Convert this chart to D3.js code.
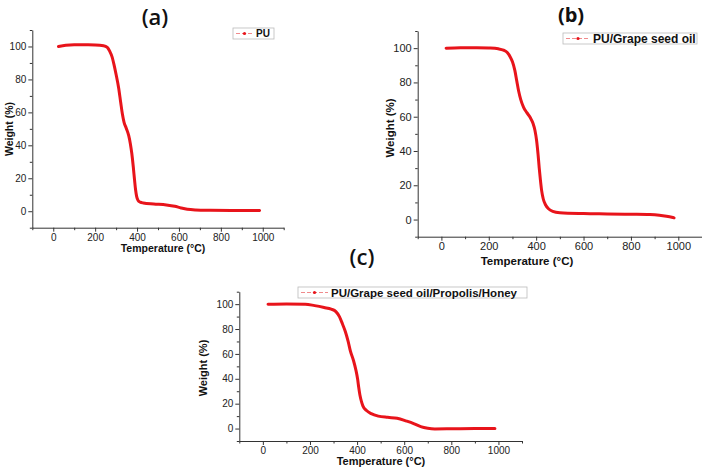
<!DOCTYPE html>
<html><head><meta charset="utf-8">
<script src="https://cdn.jsdelivr.net/npm/d3@7"></script>
<style>body{margin:0;background:#fff}svg{display:block}</style></head>
<body>
<svg id="chart" width="702" height="467"></svg>
<script>
// ---- data (temperature °C, weight %) ----
const puData = [[25,100],[60,100.8],[100,101.1],[150,101],[200,100.9],[240,100.5],[258,99.5],[270,97],[280,94],[290,89],[300,83],[312,75],[322,66],[330,59],[338,54],[348,50.5],[360,46],[368,41],[375,35],[382,27],[388,19],[393,13],[398,9],[405,6.5],[415,5.5],[430,5],[480,4.4],[540,3.8],[580,3],[610,2],[640,1.2],[680,0.8],[750,0.6],[850,0.5],[985,0.4]];
const grapeData = [[20,100],[80,100.3],[150,100.3],[200,100.1],[240,99.6],[262,98.8],[278,97.4],[290,95],[300,92],[310,87],[318,81],[326,75],[335,70],[347,65.5],[360,62.5],[375,59.5],[387,56],[395,52],[402,46],[408,38],[413,30],[418,23],[423,17],[430,12],[440,8.5],[452,6.3],[470,4.8],[500,4],[600,3.5],[700,3.3],[800,3.1],[880,2.9],[920,2.5],[950,1.9],[982,1.0]];
const honeyData = [[22,100],[100,100.2],[180,100],[220,98.8],[260,97.3],[290,96],[310,94],[325,90],[338,84],[350,78],[362,70],[372,62],[385,54.5],[395,47],[402,40],[407,33],[412,27],[418,22],[425,18],[440,14.5],[460,12],[490,10],[530,9],[570,8.3],[610,6],[640,4],[670,1.5],[700,0.2],[730,-0.3],[800,-0.2],[900,0],[985,0]];
const xDomain = [-100, 1100];
const yDomain = [-10, 110];
const xTicks = [0,200,400,600,800,1000];
const xMinorTicks = [-100,100,300,500,700,900,1100];
const yTicks = [0,20,40,60,80,100];
const yMinorTicks = [-10,10,30,50,70,90,110];
const panelTitles = ["(a)","(b)","(c)"];
const seriesNames = ["PU","PU/Grape seed oil","PU/Grape seed oil/Propolis/Honey"];
const xLabel = "Temperature (°C)";
const yLabel = "Weight (%)";

// ---- layout ----
const panels = [
  {data: puData, x:[32.3,283.7], y:[227.7,30], title:[155,25], titleW:600, titleFs:22,
   leg:{x:233,y:28,w:41,h:11,line:17,fs:10}, yl:[9,129], xl:[163,252], lab:10.5, tick:10},
  {data: grapeData, x:[417.7,702], y:[236.7,31], title:[571,22], titleW:"bold", titleFs:20,
   leg:{x:563,y:33,w:134,h:11,line:24,fs:12}, yl:[390,128], xl:[527,265], lab:11.5, tick:11},
  {data: honeyData, x:[239.3,522], y:[441,291.7], title:[362,265], titleW:600, titleFs:22,
   leg:{x:298,y:287,w:229,h:11,line:27,fs:11.5}, yl:[203,368], xl:[381,465], lab:11, tick:10}
];

const svg = d3.select("#chart");
const red = "#e8141b";
const axisColor = "#333";
const fmt = d3.format("d");

panels.forEach((p, i) => {
  const x = d3.scaleLinear().domain(xDomain).range(p.x);
  const y = d3.scaleLinear().domain(yDomain).range(p.y);
  const g = svg.append("g");

  // axes
  const xAxis = d3.axisBottom(x).tickValues(xTicks).tickFormat(fmt).tickSize(4).tickSizeOuter(0).tickPadding(2);
  const yAxis = d3.axisLeft(y).tickValues(yTicks).tickFormat(fmt).tickSize(4).tickSizeOuter(0).tickPadding(2);
  g.append("g").attr("transform", `translate(0,${p.y[0]})`).call(xAxis);
  g.append("g").attr("transform", `translate(${p.x[0]},0)`).call(yAxis);
  g.append("g").attr("transform", `translate(0,${p.y[0]})`)
    .call(d3.axisBottom(x).tickValues(xMinorTicks).tickSize(2.5).tickSizeOuter(0).tickFormat(""))
    .select(".domain").remove();
  g.append("g").attr("transform", `translate(${p.x[0]},0)`)
    .call(d3.axisLeft(y).tickValues(yMinorTicks).tickSize(2.5).tickSizeOuter(0).tickFormat(""))
    .select(".domain").remove();
  g.selectAll(".domain, .tick line").attr("stroke", axisColor).attr("stroke-width", 1);
  g.selectAll(".tick text").attr("fill", "#222")
    .attr("font-family", "Liberation Sans, Arial, sans-serif").attr("font-size", p.tick);

  // curve
  const line = d3.line().x(d => x(d[0])).y(d => y(d[1])).curve(d3.curveMonotoneX);
  g.append("path").datum(p.data).attr("d", line)
    .attr("fill", "none").attr("stroke", red).attr("stroke-width", 3)
    .attr("stroke-linejoin", "round").attr("stroke-linecap", "round");

  // axis labels
  g.append("text").attr("x", p.xl[0]).attr("y", p.xl[1]).attr("text-anchor", "middle")
    .attr("font-family", "Liberation Sans, Arial, sans-serif").attr("font-weight", "bold")
    .attr("font-size", p.lab).attr("fill", "#111").text(xLabel);
  g.append("text").attr("transform", `translate(${p.yl[0]},${p.yl[1]}) rotate(-90)`)
    .attr("text-anchor", "middle").attr("dy", "0.35em")
    .attr("font-family", "Liberation Sans, Arial, sans-serif").attr("font-weight", "bold")
    .attr("font-size", p.lab).attr("fill", "#111").text(yLabel);

  // title
  g.append("text").attr("x", p.title[0]).attr("y", p.title[1]).attr("text-anchor", "middle")
    .attr("font-family", "Open Sans, Lato, sans-serif").attr("font-weight", p.titleW)
    .attr("font-size", p.titleFs).attr("fill", "#111").text(panelTitles[i]);

  // legend
  const L = p.leg;
  const lg = g.append("g");
  lg.append("rect").attr("x", L.x).attr("y", L.y).attr("width", L.w).attr("height", L.h)
    .attr("fill", "#fff").attr("stroke", "#bbb").attr("stroke-width", 0.8);
  const cy = L.y + L.h / 2;
  lg.append("line").attr("x1", L.x + 3).attr("x2", L.x + 3 + L.line).attr("y1", cy).attr("y2", cy)
    .attr("stroke", "#f08a8c").attr("stroke-width", 1).attr("stroke-dasharray", "4,2");
  lg.append("circle").attr("cx", L.x + 3 + L.line / 2).attr("cy", cy).attr("r", 1.6).attr("fill", red);
  lg.append("text").attr("x", L.x + 6 + L.line).attr("y", cy).attr("dy", "0.36em")
    .attr("font-family", "Liberation Sans, Arial, sans-serif").attr("font-weight", "bold")
    .attr("font-size", L.fs).attr("fill", "#111").text(seriesNames[i]);
});
</script>
</body></html>
